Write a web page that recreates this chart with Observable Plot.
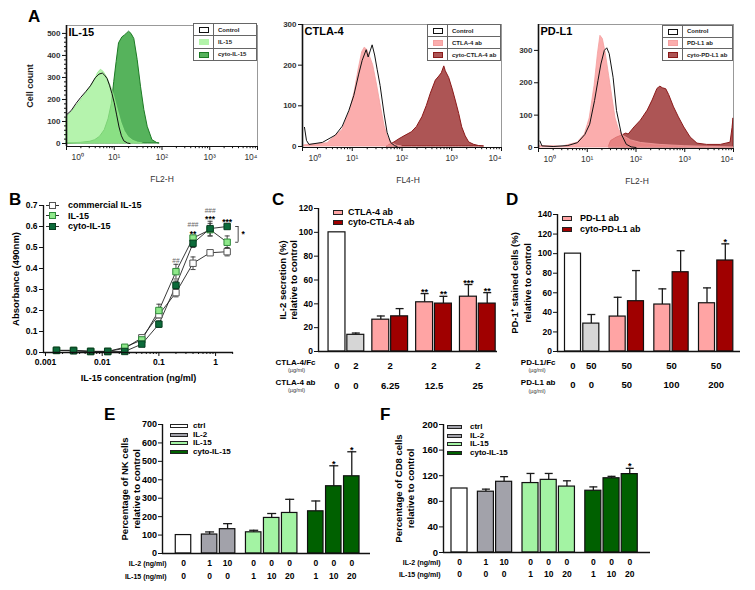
<!DOCTYPE html>
<html>
<head>
<meta charset="utf-8">
<script src="https://cdn.jsdelivr.net/npm/d3@7"></script>
<script src="https://cdn.jsdelivr.net/npm/@observablehq/plot@0.6"></script>
<style>
  html, body { margin: 0; padding: 0; background: #fff; }
  #fig { position: relative; width: 755px; height: 590px; overflow: hidden; background: #fff;
         font-family: "Liberation Sans", Arial, Helvetica, sans-serif; color: #000; }
  .letter { position: absolute; font-weight: bold; font-size: 17px; line-height: 17px; }
  table.hleg { position: absolute; border-collapse: collapse; background: #fff; font-size: 6px; font-weight: bold; color: #222; }
  table.hleg td { border: 1px solid #666; padding: 0 2px; line-height: 1; white-space: nowrap; }
  .sw { display: inline-block; box-sizing: border-box; vertical-align: middle; }
  .lg { position: absolute; font-weight: bold; white-space: nowrap; }
</style>
</head>
<body>
<div id="fig"></div>
<script>
// ================= DATA =================
// Panel A histograms: [log10 fluorescence, cell count]
const aIL15Control = [[0,130],[0.1,150],[0.2,182],[0.3,210],[0.4,235],[0.5,262],[0.6,298],[0.68,315],[0.75,320],[0.8,310],[0.85,295],[0.9,265],[0.95,228],[1.0,185],[1.05,130],[1.1,75],[1.15,35],[1.2,12],[1.28,2],[1.33,0]];
const aIL15Single = [[0,118],[0.1,140],[0.2,168],[0.3,195],[0.4,225],[0.5,255],[0.6,290],[0.66,320],[0.72,335],[0.78,325],[0.85,300],[0.92,265],[1.0,215],[1.08,150],[1.15,95],[1.22,55],[1.3,28],[1.4,12],[1.5,4],[1.6,0]];
const aIL15Cyto = [[0,0],[0.3,3],[0.5,8],[0.6,15],[0.7,30],[0.8,60],[0.88,110],[0.95,180],[1.0,280],[1.05,370],[1.1,455],[1.17,482],[1.22,490],[1.27,500],[1.31,508],[1.36,498],[1.42,475],[1.49,380],[1.56,258],[1.63,152],[1.7,76],[1.8,15],[1.9,2],[1.95,0]];

const aCTLA4Control = [[0.04,47],[0.08,15],[0.13,5],[0.4,10],[0.66,28],[0.8,50],[0.93,88],[1.03,125],[1.13,178],[1.2,212],[1.24,225],[1.28,238],[1.32,220],[1.36,235],[1.40,250],[1.45,225],[1.5,190],[1.56,150],[1.64,80],[1.7,35],[1.77,10],[1.85,2],[1.9,0]];
const aCTLA4Ab = [[0.04,3],[0.5,8],[0.8,40],[0.95,85],[1.05,135],[1.13,190],[1.2,232],[1.25,243],[1.3,238],[1.36,220],[1.42,200],[1.5,150],[1.58,95],[1.65,50],[1.72,22],[1.8,8],[1.9,2],[2.0,0]];
const aCTLA4Cyto = [[1.7,0],[1.77,5],[1.85,10],[1.95,18],[2.05,25],[2.2,35],[2.3,48],[2.41,72],[2.5,100],[2.58,130],[2.68,162],[2.75,172],[2.8,180],[2.85,197],[2.88,185],[2.95,168],[3.02,140],[3.08,113],[3.15,80],[3.21,47],[3.28,25],[3.35,10],[3.45,4],[3.55,1],[3.65,0]];

const aPDL1Control = [[0.03,20],[0.07,5],[0.3,3],[0.6,6],[0.8,15],[0.95,40],[1.05,72],[1.15,145],[1.22,207],[1.28,258],[1.35,300],[1.4,308],[1.45,290],[1.53,217],[1.6,114],[1.7,41],[1.8,10],[1.9,2],[2.0,0]];
const aPDL1Ab = [[0.03,5],[0.5,3],[0.8,15],[0.95,40],[1.05,90],[1.15,190],[1.22,290],[1.27,345],[1.32,335],[1.38,290],[1.45,220],[1.52,150],[1.58,90],[1.65,55],[1.75,35],[1.9,22],[2.1,14],[2.5,8],[3.0,4],[3.5,2],[4,0]];
const aPDL1Cyto = [[1.45,5],[1.49,20],[1.6,30],[1.7,36],[1.8,43],[1.85,40],[1.97,62],[2.1,83],[2.24,114],[2.34,145],[2.44,181],[2.5,188],[2.55,183],[2.62,180],[2.68,162],[2.78,124],[2.88,93],[2.99,62],[3.12,31],[3.26,12],[3.46,8],[3.74,8],[3.94,15],[3.98,60],[4.0,90]];

const aDecades = [1, 10, 100, 1000, 10000];
const aDecadeLabels = ["10⁰", "10¹", "10²", "10³", "10⁴"];

// Panel B
const bConc = [0.0015625, 0.003125, 0.00625, 0.0125, 0.025, 0.05, 0.1, 0.2, 0.4, 0.8, 1.6];
const bSeriesNames = ["commercial IL-15", "IL-15", "cyto-IL-15"];
const bCommercial = [0.01, 0.01, 0.005, 0.005, 0.02, 0.07, 0.18, 0.285, 0.425, 0.475, 0.48];
const bCommercialErr = [0.003, 0.003, 0.003, 0.003, 0.005, 0.012, 0.015, 0.02, 0.03, 0.01, 0.02];
const bIL15 = [0.01, 0.01, 0.005, 0.005, 0.025, 0.06, 0.2, 0.385, 0.545, 0.585, 0.525];
const bIL15Err = [0.003, 0.003, 0.003, 0.003, 0.005, 0.01, 0.03, 0.035, 0.01, 0.03, 0.03];
const bCyto = [0.01, 0.008, 0.005, 0.005, 0.005, 0.04, 0.135, 0.32, 0.52, 0.59, 0.6];
const bCytoErr = [0.003, 0.003, 0.003, 0.003, 0.003, 0.008, 0.015, 0.02, 0.02, 0.035, 0.01];
const bXTicks = [0.001, 0.01, 0.1, 1];
const bXTickLabels = ["0.001", "0.01", "0.1", "1"];
const bYTicks = [0, 0.1, 0.2, 0.3, 0.4, 0.5, 0.6, 0.7];
const bSigConc = [0.2, 0.4, 0.8, 1.6];
const bSigHash = ["##", "###", "###", ""];
const bSigStar = ["", "**", "***", "***"];

// Panel C
const cGroups = [0, 0, 1, 1, 2, 2, 3, 3];
const cSeriesNames = ["control", "CTLA-4/Fc", "CTLA-4 ab", "cyto-CTLA-4 ab"];
const cSeries = ["control", "CTLA-4/Fc", "CTLA-4 ab", "cyto-CTLA-4 ab", "CTLA-4 ab", "cyto-CTLA-4 ab", "CTLA-4 ab", "cyto-CTLA-4 ab"];
const cValues = [100, 14, 26.7, 29.5, 41.3, 40.2, 46, 40.2];
const cErrors = [0, 1.5, 3.1, 6.5, 7.3, 6.1, 10.2, 9.2];
const cSig = ["", "", "", "", "**", "**", "***", "**"];
const cLabelBars = [[0], [1], [2, 3], [4, 5], [6, 7]];
const cFcRow = ["0", "2", "2", "2", "2"];
const cAbRow = ["0", "0", "6.25", "12.5", "25"];
const cYTicks = [0, 20, 40, 60, 80, 100, 120];

// Panel D
const dGroups = [0, 0, 1, 1, 2, 2, 3, 3];
const dSeriesNames = ["control", "PD-L1/Fc", "PD-L1 ab", "cyto-PD-L1 ab"];
const dSeries = ["control", "PD-L1/Fc", "PD-L1 ab", "cyto-PD-L1 ab", "PD-L1 ab", "cyto-PD-L1 ab", "PD-L1 ab", "cyto-PD-L1 ab"];
const dValues = [100, 28.5, 35.7, 51.4, 48, 81, 49.3, 93];
const dErrors = [0, 9.3, 19.7, 31.3, 16, 22, 15.7, 17];
const dSig = ["", "", "", "", "", "", "", "*"];
const dLabelBars = [[0], [1], [2, 3], [4, 5], [6, 7]];
const dFcRow = ["0", "50", "50", "50", "50"];
const dAbRow = ["0", "0", "50", "100", "200"];
const dYTicks = [0, 20, 40, 60, 80, 100, 120, 140];

// Panels E / F (shared categories)
const efGroups = [0, 1, 1, 2, 2, 2, 3, 3, 3];
const efSeriesNames = ["ctrl", "IL-2", "IL-15", "cyto-IL-15"];
const efSeries = ["ctrl", "IL-2", "IL-2", "IL-15", "IL-15", "IL-15", "cyto-IL-15", "cyto-IL-15", "cyto-IL-15"];
const efLabelBars = [[0], [1], [2], [3], [4], [5], [6], [7], [8]];
const efIL2Row = ["0", "1", "10", "0", "0", "0", "0", "0", "0"];
const efIL15Row = ["0", "0", "0", "1", "10", "20", "1", "10", "20"];
const eValues = [100, 103, 132, 115, 193, 220, 229, 365, 419];
const eErrors = [0, 14, 30, 11, 24, 74, 56, 111, 133];
const eSig = ["", "", "", "", "", "", "", "*", "*"];
const eYTicks = [0, 100, 200, 300, 400, 500, 600, 700];
const fValues = [100, 95, 110.5, 108.5, 113.5, 103, 96.5, 116, 122.5];
const fErrors = [0, 4, 8, 15, 10, 9, 6, 3, 9];
const fSig = ["", "", "", "", "", "", "", "", "*"];
const fYTicks = [0, 40, 80, 120, 160, 200];

// ================= HELPERS =================
const FONT = '"Liberation Sans", Arial, Helvetica, sans-serif';
const baseStyle = {fontFamily: FONT, fontSize: "8px", color: "#000", background: "transparent", overflow: "visible"};
const fig = document.getElementById("fig");
function put(node, left, top) {
  node.style.position = "absolute"; node.style.left = left + "px"; node.style.top = top + "px";
  fig.appendChild(node); return node;
}
const capSymbol = {draw(ctx, size) { const r = Math.sqrt(size / Math.PI); ctx.moveTo(-r, 0); ctx.lineTo(r, 0); }};
const armSymbol = {draw(ctx, size) { const r = Math.sqrt(size / Math.PI); ctx.moveTo(-r, 0); ctx.lineTo(0, 0); }};
const T = d => d;

// ---------- Histogram (panel A) ----------
function histogram(o) {
  const X = d => 10 ** d[0], Y = d => d[1];
  const minors = aDecades.slice(0, -1).flatMap(d => d3.range(2, 10).map(k => k * d));
  const sup = d => aDecadeLabels[aDecades.indexOf(d)];
  const lbl = {tickSize: 0, tickPadding: 7, tickFormat: sup, fontSize: 8.5, fill: "#333", label: null};
  return Plot.plot({
    width: o.width, height: o.height,
    marginLeft: o.mL, marginRight: o.mR, marginTop: o.mT, marginBottom: o.mB,
    style: baseStyle,
    x: {type: "log", domain: [1, 1e4]},
    y: {domain: o.yDomain},
    marks: [
      Plot.areaY(o.dark, {x: X, y: Y, fill: o.darkFill, stroke: o.darkStroke, strokeWidth: 1}),
      Plot.areaY(o.light, {x: X, y: Y, fill: o.lightFill, fillOpacity: 0.75, stroke: o.lightStroke, strokeWidth: 0.8}),
      Plot.lineY(o.control, {x: X, y: Y, stroke: "#111", strokeWidth: 1}),
      Plot.frame({stroke: "#808080", strokeWidth: 0.8}),
      Plot.ruleX([1], {stroke: "#111", strokeWidth: 1.6}),
      Plot.ruleY([o.yDomain[0]], {stroke: "#111", strokeWidth: 1.2}),
      Plot.axisY(o.yTicks, {tickSize: 4, tickPadding: 2, fontWeight: "bold", fontSize: 8, fill: "#333", stroke: "#111", label: null}),
      o.yMinor ? Plot.axisY(o.yMinor, {tickSize: 2, fill: "none", stroke: "#111", label: null}) : null,
      Plot.axisX(aDecades, {tickSize: 4, fill: "none", stroke: "#111", label: null}),
      Plot.axisX(minors, {tickSize: 2.2, fill: "none", stroke: "#111", label: null}),
      Plot.axisX(aDecades.slice(1, -1), lbl),
      Plot.axisX(aDecades.slice(0, 1), {...lbl, textAnchor: "start", dx: o.firstDx}),
      Plot.axisX(aDecades.slice(-1), {...lbl, textAnchor: "end", dx: 0}),
      Plot.text([o.xLabel], {text: T, frameAnchor: "bottom", textAnchor: "middle", lineAnchor: "middle", dy: 33, dx: o.xLabelDx, fontSize: 8.5, fill: "#333"}),
      Plot.text([o.title], {text: T, frameAnchor: "top-left", textAnchor: "start", lineAnchor: "middle", dx: 2, dy: 7, fontSize: 11, fontWeight: "bold"}),
      o.yLabel ? Plot.text([o.yLabel], {text: T, frameAnchor: "left", textAnchor: "middle", lineAnchor: "middle", rotate: -90, dx: o.yLabelDx, fontSize: 9, fontWeight: "bold", fill: "#222"}) : null
    ].filter(Boolean)
  });
}
function histLegend(left, top, width, height, items) {
  const t = document.createElement("table"); t.className = "hleg";
  Object.assign(t.style, {left: left + "px", top: top + "px", width: width + "px", height: height + "px"});
  for (const it of items) {
    const tr = t.insertRow();
    const td1 = tr.insertCell(); td1.style.width = "15px"; td1.style.textAlign = "center";
    td1.innerHTML = `<span class="sw" style="width:10px;height:6px;background:${it.fill};border:1px solid ${it.stroke}"></span>`;
    const td2 = tr.insertCell(); td2.textContent = it.label; td2.style.paddingLeft = "4px";
  }
  fig.appendChild(t);
}

// ---------- Bar panels (C–F) ----------
function barPanel(o) {
  const slots = o.groups.map((g, i) => i + o.gap * g);
  const rows = o.values.map((v, i) => ({slot: slots[i], value: v, err: o.errors[i], series: o.series[i], sig: o.sig[i]}));
  const withErr = rows.filter(d => d.err > 0);
  const labels = o.labelBars.map((bars, k) => ({pos: d3.mean(bars, b => slots[b]), r1: o.row1[k], r2: o.row2[k]}));
  const hw = o.barWidth / 2;
  const headers = o.headers.map(h => Plot.text([h.t], {text: T, frameAnchor: "bottom-left", textAnchor: h.anchor || "end", lineAnchor: "middle",
    dx: h.dx, dy: h.dy, fontSize: h.size, fontWeight: h.weight || "bold", fill: h.fill || "#000"}));
  return Plot.plot({
    width: o.width, height: o.height,
    marginLeft: o.mL, marginRight: o.mR, marginTop: o.mT, marginBottom: o.mB,
    style: baseStyle,
    x: {type: "linear", domain: o.xDomain, axis: null},
    y: {domain: o.yDomain, axis: null},
    color: {domain: o.colorDomain, range: o.colorRange},
    marks: [
      Plot.ruleX(withErr, {x: "slot", y1: "value", y2: d => d.value + d.err, stroke: "#1a1a1a", strokeWidth: 1.3}),
      Plot.dot(withErr, {x: "slot", y: d => d.value + d.err, symbol: capSymbol, r: o.capR, stroke: "#1a1a1a", strokeWidth: 1.3, fill: "none"}),
      Plot.rect(rows, {x1: d => d.slot - hw, x2: d => d.slot + hw, y1: 0, y2: "value", fill: "series", stroke: "#111", strokeWidth: 1.2}),
      Plot.text(rows.filter(d => d.sig), {x: "slot", y: d => d.value + d.err, text: "sig", dy: 1, lineAnchor: "bottom", fontWeight: "bold", fontSize: 9}),
      Plot.ruleY([o.yDomain[0]], {stroke: "#111", strokeWidth: 1.4}),
      Plot.ruleX([o.xDomain[0]], {y1: o.yDomain[0], y2: o.yDomain[1], stroke: "#111", strokeWidth: 1.4}),
      Plot.axisY(o.yTicks, {tickSize: 4, tickPadding: 1.5, fontWeight: "bold", fontSize: o.tickFont, stroke: "#111", label: null}),
      Plot.text(labels, {x: "pos", text: "r1", frameAnchor: "bottom", lineAnchor: "middle", dy: o.row1Dy, fontWeight: "bold", fontSize: o.valueFont}),
      Plot.text(labels, {x: "pos", text: "r2", frameAnchor: "bottom", lineAnchor: "middle", dy: o.row2Dy, fontWeight: "bold", fontSize: o.valueFont}),
      ...headers,
      Plot.text([o.yLabel], {text: T, frameAnchor: "left", textAnchor: "middle", lineAnchor: "middle", rotate: -90, dx: o.yLabelDx, fontWeight: "bold", fontSize: o.yLabelFont, lineHeight: o.yLabelLH})
    ]
  });
}
function swatchLegend(x, y0, dy, w, h, textX, fontSize, items) {
  items.forEach((it, k) => {
    const cy = y0 + k * dy;
    const sw = document.createElement("div");
    Object.assign(sw.style, {width: w + "px", height: h + "px", boxSizing: "border-box", background: it.fill, border: "1px solid " + it.stroke});
    put(sw, x, cy - h / 2);
    const tx = document.createElement("div"); tx.className = "lg"; tx.textContent = it.label;
    Object.assign(tx.style, {fontSize: fontSize + "px", lineHeight: fontSize + "px"});
    put(tx, textX, cy - fontSize / 2);
  });
}

// ================= PANEL A =================
put(histogram({width: 265, height: 195, mL: 66, mR: 8, mT: 25, mB: 49, yDomain: [-13.6, 536],
  yTicks: [0, 100, 200, 300, 400, 500], yMinor: d3.range(20, 520, 20).filter(v => v % 100 !== 0),
  firstDx: 5, xLabel: "FL2-H", xLabelDx: 0, title: "IL-15", yLabel: "Cell count", yLabelDx: -36,
  dark: aIL15Cyto, darkFill: "#56b35c", darkStroke: "#1d7a25",
  light: aIL15Single, lightFill: "#9cef92", lightStroke: "#95e88c", control: aIL15Control}), 0, 0);
put(histogram({width: 255, height: 195, mL: 47, mR: 9, mT: 24, mB: 48, yDomain: [-2.5, 300],
  yTicks: [0, 100, 200, 300], firstDx: 6, xLabel: "FL4-H", xLabelDx: 6, title: "CTLA-4",
  dark: aCTLA4Cyto, darkFill: "#ad5555", darkStroke: "#8b1a1a",
  light: aCTLA4Ab, lightFill: "#fa9292", lightStroke: "#f4a0a0", control: aCTLA4Control}), 255, 0);
put(histogram({width: 255, height: 195, mL: 38, mR: 22, mT: 24, mB: 47, yDomain: [-3.1, 380],
  yTicks: [0, 100, 200, 300], firstDx: 5, xLabel: "FL2-H", xLabelDx: 1, title: "PD-L1",
  dark: aPDL1Cyto, darkFill: "#ad5555", darkStroke: "#8b1a1a",
  light: aPDL1Ab, lightFill: "#fa9292", lightStroke: "#f4a0a0", control: aPDL1Control}), 500, 0);
histLegend(193, 23, 64, 38, [{label: "Control", fill: "#fff", stroke: "#111"}, {label: "IL-15", fill: "#b3f4aa", stroke: "#b3f4aa"}, {label: "cyto-IL-15", fill: "#56b35c", stroke: "#1d7a25"}]);
histLegend(427, 24, 74, 37, [{label: "Control", fill: "#fff", stroke: "#111"}, {label: "CTLA-4 ab", fill: "#fbadad", stroke: "#f4a0a0"}, {label: "cyto-CTLA-4 ab", fill: "#ad5555", stroke: "#8b1a1a"}]);
histLegend(662, 25, 71, 36, [{label: "Control", fill: "#fff", stroke: "#111"}, {label: "PD-L1 ab", fill: "#fbadad", stroke: "#f4a0a0"}, {label: "cyto-PD-L1 ab", fill: "#ad5555", stroke: "#8b1a1a"}]);

// ================= PANEL B =================
(function () {
  const series = [
    {name: bSeriesNames[0], values: bCommercial, errors: bCommercialErr, fill: "#ffffff", stroke: "#555"},
    {name: bSeriesNames[1], values: bIL15, errors: bIL15Err, fill: "#8fe88a", stroke: "#2f8a3a"},
    {name: bSeriesNames[2], values: bCyto, errors: bCytoErr, fill: "#0c6b3a", stroke: "#083d20"}
  ];
  const rows = series.flatMap(s => bConc.map((c, i) => ({series: s.name, conc: c, value: s.values[i], err: s.errors[i]})));
  const topAt = c => d3.max(rows.filter(r => r.conc === c), r => r.value + r.err);
  const sig = bSigConc.map((c, i) => ({conc: c, hash: bSigHash[i], star: bSigStar[i], top: topAt(c)}));
  const last = bConc.length - 1;
  const bracket = [{conc: bConc[last], a: bIL15[last], b: bCyto[last]}];
  const xMin = 0.000922, xMax = 2.07;
  const minors = [0.001, 0.01, 0.1, 1].flatMap(d => d3.range(2, 10).map(k => k * d)).filter(v => v <= xMax);
  const plot = Plot.plot({
    width: 250, height: 200, marginLeft: 43, marginRight: 17, marginTop: 15, marginBottom: 38,
    style: baseStyle,
    x: {type: "log", domain: [xMin, xMax]},
    y: {domain: [0, 0.7]},
    marks: [
      Plot.ruleX(rows, {x: "conc", y1: d => d.value - d.err, y2: d => d.value + d.err, stroke: "#333", strokeWidth: 0.9}),
      Plot.dot(rows, {x: "conc", y: d => d.value + d.err, symbol: capSymbol, r: 2.5, stroke: "#333", strokeWidth: 0.9, fill: "none"}),
      Plot.dot(rows, {x: "conc", y: d => d.value - d.err, symbol: capSymbol, r: 2.5, stroke: "#333", strokeWidth: 0.9, fill: "none"}),
      Plot.line(rows, {x: "conc", y: "value", z: "series", stroke: "#222", strokeWidth: 0.9}),
      ...series.map(s => Plot.dot(rows.filter(r => r.series === s.name), {x: "conc", y: "value", symbol: "square", r: 3.6, fill: s.fill, stroke: s.stroke, strokeWidth: 1})),
      Plot.text(sig.filter(s => s.star), {x: "conc", y: "top", text: "star", dy: 1, lineAnchor: "bottom", fontSize: 8.5, fontWeight: "bold"}),
      Plot.text(sig.filter(s => s.hash && s.star), {x: "conc", y: "top", text: "hash", dy: -8.5, lineAnchor: "bottom", fontSize: 6.5, fill: "#666"}),
      Plot.text(sig.filter(s => s.hash && !s.star), {x: "conc", y: "top", text: "hash", dy: -1, lineAnchor: "bottom", fontSize: 6.5, fill: "#666"}),
      Plot.ruleX(bracket, {x: "conc", y1: "a", y2: "b", dx: 11, stroke: "#333", strokeWidth: 0.9}),
      Plot.dot(bracket, {x: "conc", y: "a", dx: 11, symbol: armSymbol, r: 3, stroke: "#333", strokeWidth: 0.9, fill: "none"}),
      Plot.dot(bracket, {x: "conc", y: "b", dx: 11, symbol: armSymbol, r: 3, stroke: "#333", strokeWidth: 0.9, fill: "none"}),
      Plot.text(bracket, {x: "conc", y: d => (d.a + d.b) / 2, text: () => "*", dx: 16, fontSize: 8.5, fontWeight: "bold"}),
      Plot.ruleY([0], {stroke: "#111", strokeWidth: 1.3}),
      Plot.ruleX([xMin], {y1: 0, y2: 0.7, stroke: "#111", strokeWidth: 1.3}),
      Plot.axisY(bYTicks, {tickSize: 4, tickPadding: 2, tickFormat: d3.format(".1f"), fontWeight: "bold", fontSize: 8.5, stroke: "#111", label: null}),
      Plot.axisX(bXTicks, {tickSize: 4, tickPadding: 2, tickFormat: d => bXTickLabels[bXTicks.indexOf(d)], fontWeight: "bold", fontSize: 8.5, stroke: "#111", label: null}),
      Plot.axisX(minors, {tickSize: 2, fill: "none", stroke: "#111", label: null}),
      Plot.text(["IL-15 concentration (ng/ml)"], {text: T, frameAnchor: "bottom", textAnchor: "middle", lineAnchor: "middle", dy: 26, fontWeight: "bold", fontSize: 9}),
      Plot.text(["Absorbance (490nm)"], {text: T, frameAnchor: "left", textAnchor: "middle", lineAnchor: "middle", rotate: -90, dx: -28, fontWeight: "bold", fontSize: 9.5})
    ]
  });
  put(plot, 0, 190);
  series.forEach((s, k) => {
    const cy = 205 + k * 10.5;
    const row = document.createElement("div");
    row.innerHTML = `<div style="position:absolute;left:0;top:4.5px;width:13px;height:1px;background:#333"></div>` +
      `<div style="position:absolute;left:3px;top:1.5px;width:7px;height:7px;box-sizing:border-box;background:${s.fill};border:1px solid ${s.stroke}"></div>` +
      `<span style="position:absolute;left:22px;top:0;font-size:9px;font-weight:bold;line-height:10px;white-space:nowrap">${s.name}</span>`;
    put(row, 46, cy - 5);
  });
})();

// ================= PANEL C =================
put(barPanel({
  width: 255, height: 215, mL: 68, mR: 8, mT: 18, mB: 54,
  groups: cGroups, gap: 0.33, values: cValues, errors: cErrors, series: cSeries, sig: cSig,
  xDomain: [-0.984, 8.537], yDomain: [0, 120], yTicks: cYTicks, barWidth: 0.9, capR: 4,
  colorDomain: cSeriesNames, colorRange: ["#ffffff", "#d6d6d6", "#ffa4a4", "#a00000"],
  labelBars: cLabelBars, row1: cFcRow, row2: cAbRow, row1Dy: 14, row2Dy: 34, valueFont: 9.5, tickFont: 8.5,
  headers: [
    {t: "CTLA-4/Fc", dx: -3, dy: 11, size: 8},
    {t: "(µg/ml)", dx: -22, dy: 18.5, size: 5.5, weight: "normal", anchor: "middle", fill: "#333"},
    {t: "CTLA-4 ab", dx: -3, dy: 31, size: 8},
    {t: "(µg/ml)", dx: -22, dy: 39, size: 5.5, weight: "normal", anchor: "middle", fill: "#333"}
  ],
  yLabel: "IL-2 secretion (%)\nrelative to control", yLabelDx: -30.5, yLabelFont: 9.5, yLabelLH: 1.15
}), 250, 190);
swatchLegend(333, 212, 10.5, 10, 5, 348, 9, [
  {label: "CTLA-4 ab", fill: "#ffa4a4", stroke: "#222"}, {label: "cyto-CTLA-4 ab", fill: "#a00000", stroke: "#222"}]);

// ================= PANEL D =================
put(barPanel({
  width: 255, height: 215, mL: 57, mR: 15, mT: 24, mB: 54,
  groups: dGroups, gap: 0.44, values: dValues, errors: dErrors, series: dSeries, sig: dSig,
  xDomain: [-0.847, 9.15], yDomain: [0, 140], yTicks: dYTicks, barWidth: 0.875, capR: 4,
  colorDomain: dSeriesNames, colorRange: ["#ffffff", "#d6d6d6", "#ffa4a4", "#a00000"],
  labelBars: dLabelBars, row1: dFcRow, row2: dAbRow, row1Dy: 14, row2Dy: 33, valueFont: 9.5, tickFont: 8.5,
  headers: [
    {t: "PD-L1/Fc", dx: -2, dy: 11, size: 8},
    {t: "(µg/ml)", dx: -20.5, dy: 19, size: 5.5, weight: "normal", anchor: "middle", fill: "#333"},
    {t: "PD-L1 ab", dx: -2, dy: 31, size: 8},
    {t: "(µg/ml)", dx: -20.5, dy: 40, size: 5.5, weight: "normal", anchor: "middle", fill: "#333"}
  ],
  yLabel: "PD-1⁺ stained cells (%)\nrelative to control", yLabelDx: -37, yLabelFont: 9.5, yLabelLH: 1.3
}), 500, 190);
swatchLegend(562, 218, 11.5, 10, 5, 580, 9, [
  {label: "PD-L1 ab", fill: "#ffa4a4", stroke: "#222"}, {label: "cyto-PD-L1 ab", fill: "#a00000", stroke: "#222"}]);

// ================= PANEL E =================
const efColors = ["#ffffff", "#a2a2aa", "#a3f3a3", "#006000"];
put(barPanel({
  width: 285, height: 185, mL: 67, mR: 10, mT: 19, mB: 37,
  groups: efGroups, gap: 0.45, values: eValues, errors: eErrors, series: efSeries, sig: eSig,
  xDomain: [-1.167, 10.39], yDomain: [0, 700], yTicks: eYTicks, barWidth: 0.86, capR: 4.5,
  colorDomain: efSeriesNames, colorRange: efColors,
  labelBars: efLabelBars, row1: efIL2Row, row2: efIL15Row, row1Dy: 10, row2Dy: 23, valueFont: 8.5, tickFont: 9,
  headers: [{t: "IL-2 (ng/ml)", dx: 4, dy: 10, size: 7}, {t: "IL-15 (ng/ml)", dx: 4, dy: 23, size: 7}],
  yLabel: "Percentage of NK cells\nrelative to control", yLabelDx: -32.5, yLabelFont: 9.5, yLabelLH: 1.25
}), 95, 405);
swatchLegend(170, 426, 8.7, 18, 4, 193, 8, [
  {label: "ctrl", fill: "#ffffff", stroke: "#222"}, {label: "IL-2", fill: "#a2a2aa", stroke: "#222"},
  {label: "IL-15", fill: "#a3f3a3", stroke: "#222"}, {label: "cyto-IL-15", fill: "#006000", stroke: "#222"}]);

// ================= PANEL F =================
put(barPanel({
  width: 285, height: 185, mL: 68, mR: 10, mT: 19, mB: 38,
  groups: efGroups, gap: 0.45, values: fValues, errors: fErrors, series: efSeries, sig: fSig,
  xDomain: [-0.879, 10.49], yDomain: [0, 200], yTicks: fYTicks, barWidth: 0.88, capR: 4,
  colorDomain: efSeriesNames, colorRange: efColors,
  labelBars: efLabelBars, row1: efIL2Row, row2: efIL15Row, row1Dy: 10, row2Dy: 22, valueFont: 8.5, tickFont: 9.5,
  headers: [{t: "IL-2 (ng/ml)", dx: -3, dy: 10, size: 7}, {t: "IL-15 (ng/ml)", dx: -3, dy: 22, size: 7}],
  yLabel: "Percentage of CD8 cells\nrelative to control", yLabelDx: -39.5, yLabelFont: 9.5, yLabelLH: 1.25
}), 375, 405);
swatchLegend(447, 427, 8.6, 15, 4, 470, 8, [
  {label: "ctrl", fill: "#a2a2aa", stroke: "#222"}, {label: "IL-2", fill: "#a2a2aa", stroke: "#222"},
  {label: "IL-15", fill: "#a3f3a3", stroke: "#222"}, {label: "cyto-IL-15", fill: "#006000", stroke: "#222"}]);

// ================= PANEL LETTERS =================
[["A", 28, 8], ["B", 9, 191], ["C", 272, 191], ["D", 506, 191], ["E", 104, 406], ["F", 380, 406]].forEach(([t, x, y]) => {
  const d = document.createElement("div"); d.className = "letter"; d.textContent = t; put(d, x, y);
});
</script>
</body>
</html>
